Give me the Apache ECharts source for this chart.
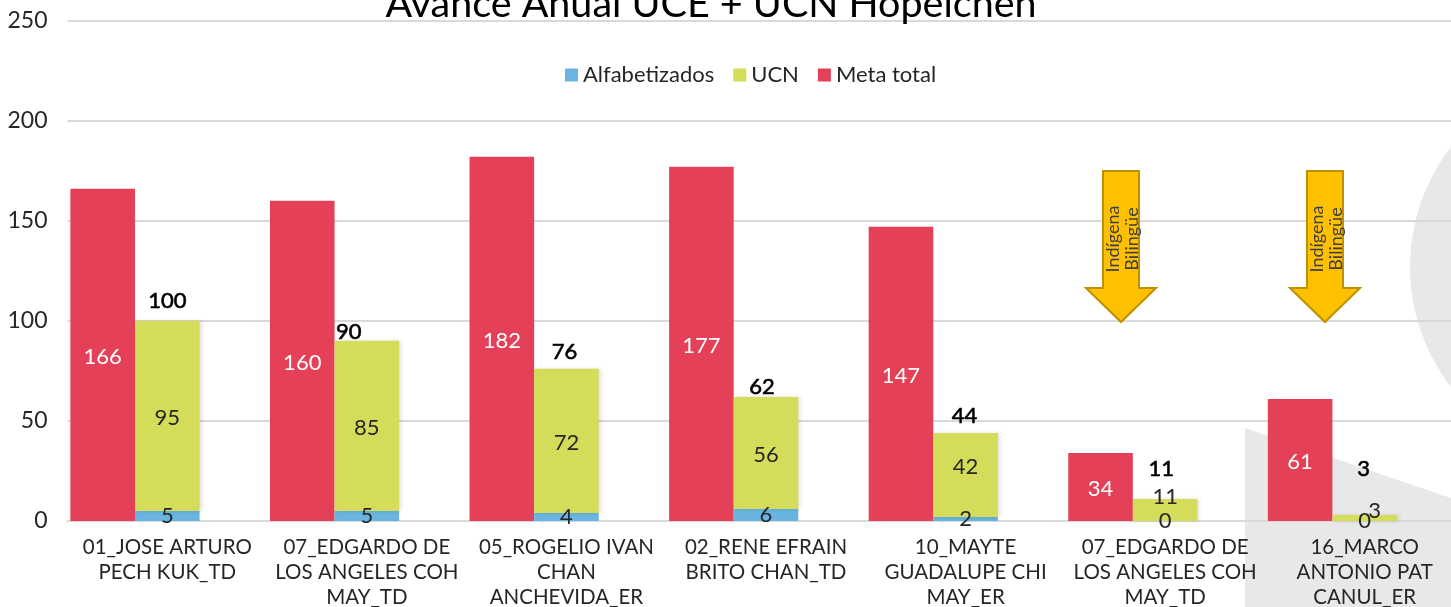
<!DOCTYPE html>
<html>
<head>
<meta charset="utf-8">
<title>Avance Anual UCE + UCN Hopelchén</title>
<style>
html, body { margin: 0; padding: 0; background: #fff; overflow: hidden; }
#chart { width: 1451px; height: 607px; }
</style>
<script src="https://cdn.jsdelivr.net/npm/echarts@6/dist/echarts.min.js"></script>
</head>
<body>
<div id="chart"></div>
<script>
var categories = [
    '01_JOSE ARTURO\nPECH KUK_TD',
    '07_EDGARDO DE\nLOS ANGELES COH\nMAY_TD',
    '05_ROGELIO IVAN\nCHAN\nANCHEVIDA_ER',
    '02_RENE EFRAIN\nBRITO CHAN_TD',
    '10_MAYTE\nGUADALUPE CHI\nMAY_ER',
    '07_EDGARDO DE\nLOS ANGELES COH\nMAY_TD',
    '16_MARCO\nANTONIO PAT\nCANUL_ER'
];
var alfabetizados = [5, 5, 4, 6, 2, 0, 0];
var ucn = [95, 85, 72, 56, 42, 11, 3];
var metaTotal = [166, 160, 182, 177, 147, 34, 61];
var totales = [100, 90, 76, 62, 44, 11, 3];

// manual label nudges, same as the hand-moved labels in the original
var ucnLabelOffset = [[0, 2], [0, 2], [0, 2], [0, 2], [0, -8], [0, -13], [10, -7]];
var totalLabelOffset = [[0, -4], [-18, 7], [-2, -1], [-4, 6], [-1, -2], [-4, -15], [-1, -31]];

var FONT = 'Lato, "Noto Sans", sans-serif';
var TEXT = '#262626';

function arrow(cx) {
    return {
        type: 'polygon',
        z: 50,
        shape: { points: [[cx - 18, 171], [cx + 18, 171], [cx + 18, 288], [cx + 35, 288], [cx, 322], [cx - 35, 288], [cx - 18, 288]] },
        style: { fill: '#FFC000', stroke: '#BF9000', lineWidth: 2 }
    };
}

function arrowText(cx) {
    return {
        type: 'text',
        z: 51,
        x: cx,
        y: 239,
        rotation: Math.PI / 2,
        style: {
            text: 'Indígena\nBilingüe',
            font: '18px ' + FONT,
            fill: '#404040',
            align: 'center',
            verticalAlign: 'middle',
            lineHeight: 19
        }
    };
}

var chart = echarts.init(document.getElementById('chart'));
chart.setOption({
    animation: false,
    backgroundColor: '#fff',
    title: {
        text: 'Avance Anual UCE + UCN Hopelchén',
        left: 706,
        top: -21,
        textAlign: 'center',
        textStyle: { fontFamily: FONT, fontSize: 39.5, fontWeight: 'normal', color: '#000' }
    },
    legend: {
        data: ['Alfabetizados', 'UCN', 'Meta total'],
        left: 560,
        top: 59,
        itemWidth: 13,
        itemHeight: 13,
        itemGap: 19,
        icon: 'rect',
        textStyle: { fontFamily: FONT, fontSize: 22, color: TEXT }
    },
    grid: { left: 67.5, top: 20.5, width: 1397, height: 500.5, outerBoundsMode: 'none' },
    xAxis: {
        type: 'category',
        data: categories,
        axisTick: { show: false },
        axisLine: { lineStyle: { color: '#D9D9D9', width: 2 } },
        axisLabel: {
            interval: 0,
            margin: 14,
            fontFamily: FONT,
            fontSize: 20.5,
            lineHeight: 25,
            color: TEXT
        }
    },
    yAxis: {
        type: 'value',
        min: 0,
        max: 250,
        interval: 50,
        axisLine: { show: false },
        axisTick: { show: false },
        splitLine: { lineStyle: { color: '#D9D9D9', width: 2 } },
        axisLabel: { margin: 20, fontFamily: FONT, fontSize: 23, color: TEXT }
    },
    series: [
        {
            name: 'Meta total',
            type: 'bar',
            stack: 'meta',
            barWidth: 64.6,
            barGap: 0,
            data: metaTotal,
            itemStyle: { color: '#E44058' },
            label: { show: true, position: 'inside', offset: [0, 2], fontFamily: FONT, fontSize: 22, color: '#fff' }
        },
        {
            name: 'Alfabetizados',
            type: 'bar',
            stack: 'avance',
            barWidth: 64.6,
            data: alfabetizados,
            itemStyle: { color: '#6AB4E2' },
            label: { show: true, position: 'inside', fontFamily: FONT, fontSize: 22, color: TEXT }
        },
        {
            name: 'UCN',
            type: 'bar',
            stack: 'avance',
            barWidth: 64.6,
            data: ucn.map(function (v, i) {
                return { value: v, label: { offset: ucnLabelOffset[i] } };
            }),
            itemStyle: { color: '#D4DC5A', shadowColor: 'rgba(0,0,0,0.12)', shadowBlur: 4, shadowOffsetX: 2 },
            label: { show: true, position: 'inside', fontFamily: FONT, fontSize: 22, color: TEXT }
        },
        {
            // empty third slot keeps the green stack on the category centre
            name: 'Hueco',
            type: 'bar',
            stack: 'hueco',
            barWidth: 64.6,
            data: []
        },
        {
            name: 'Total',
            type: 'line',
            data: totales.map(function (v, i) {
                return { value: v, label: { offset: totalLabelOffset[i] } };
            }),
            symbol: 'circle',
            symbolSize: 1,
            z: 20,
            itemStyle: { color: 'transparent' },
            lineStyle: { width: 0, color: 'transparent' },
            label: {
                show: true,
                position: 'top',
                distance: 4,
                fontFamily: FONT,
                fontSize: 22,
                color: '#000',
                textBorderColor: '#000',
                textBorderWidth: 0.6
            }
        }
    ],
    graphic: {
        elements: [
            { type: 'circle', z: -10, shape: { cx: 1606, cy: 267, r: 196 }, style: { fill: '#E8E8E8' } },
            { type: 'polygon', z: -10, shape: { points: [[1245, 428], [1451, 498], [1451, 607], [1245, 607]] }, style: { fill: '#E8E8E8' } },
            arrow(1121),
            arrowText(1122.5),
            arrow(1325),
            arrowText(1326.5)
        ]
    }
});
</script>
</body>
</html>
